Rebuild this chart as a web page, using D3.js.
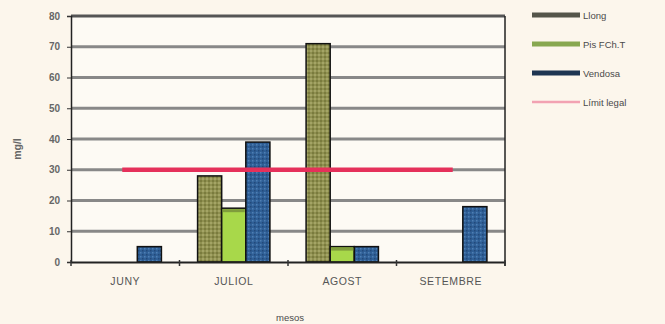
<!DOCTYPE html>
<html><head><meta charset="utf-8">
<script src="https://cdn.jsdelivr.net/npm/d3@7"></script>
<style>
html,body{margin:0;padding:0;background:#fcf6ec;}
svg{display:block;}
text{font-family:"Liberation Sans",Arial,sans-serif;fill:#4a4a4a;}
</style></head><body>
<svg id="chart" width="665" height="324"></svg>
<script>
const months = ["JUNY","JULIOL","AGOST","SETEMBRE"];
const seriesNames = ["Llong","Pis FCh.T","Vendosa"];
const llong   = [0, 28, 71, 0];
const pis     = [0, 17.5, 5, 0];
const vendosa = [5, 39, 5, 18];
const limitName = "Límit legal";
const limitValue = 30;
const yTicks = [0,10,20,30,40,50,60,70,80];

const svg = d3.select("#chart");
const W = 665, H = 324;
const m = {left:71, right:160, top:16, bottom:62};
const x0 = d3.scaleBand().domain(months).range([m.left, W - m.right]).paddingInner(0).paddingOuter(0);
const y = d3.scaleLinear().domain([0,80]).range([H - m.bottom, m.top]);
const x1 = d3.scaleBand().domain(seriesNames).range([0, x0.bandwidth()]).paddingOuter(0.75).paddingInner(0);

const defs = svg.append("defs");
const p1 = defs.append("pattern").attr("id","pLlong").attr("width",4).attr("height",4).attr("patternUnits","userSpaceOnUse");
p1.append("rect").attr("width",4).attr("height",4).attr("fill","#8f9050");
p1.append("rect").attr("width",2).attr("height",2).attr("fill","#7a7b3e");
p1.append("rect").attr("x",2).attr("y",2).attr("width",2).attr("height",2).attr("fill","#a4a466");
const p3 = defs.append("pattern").attr("id","pVend").attr("width",4).attr("height",4).attr("patternUnits","userSpaceOnUse");
p3.append("rect").attr("width",4).attr("height",4).attr("fill","#2f5f96");
p3.append("rect").attr("width",1.5).attr("height",1.5).attr("fill","#4f7fb4");
p3.append("rect").attr("x",2).attr("y",2).attr("width",1.5).attr("height",1.5).attr("fill","#22497a");

svg.append("rect").attr("x",m.left).attr("y",m.top).attr("width",W-m.right-m.left).attr("height",H-m.bottom-m.top).attr("fill","#fdfaf4");

svg.append("g").selectAll("line").data(yTicks.filter(d=>d>0)).join("line")
  .attr("x1",m.left).attr("x2",W-m.right)
  .attr("y1",d=>y(d)).attr("y2",d=>y(d))
  .attr("stroke",d=>d===80?"#555":"#888").attr("stroke-width",3);

svg.append("line").attr("x1",W-m.right).attr("x2",W-m.right).attr("y1",m.top).attr("y2",H-m.bottom+4).attr("stroke","#222").attr("stroke-width",1.5);

const series = [
  {name:"Llong", vals:llong, fill:"url(#pLlong)"},
  {name:"Pis FCh.T", vals:pis, fill:"#a8d84a"},
  {name:"Vendosa", vals:vendosa, fill:"url(#pVend)"}
];
const bars = svg.append("g");
series.forEach(s=>{
  bars.selectAll(null).data(months.map((mo,i)=>({mo, v:s.vals[i]})).filter(d=>d.v>0)).join("rect")
    .attr("x",d=>x0(d.mo)+x1(s.name))
    .attr("y",d=>y(d.v))
    .attr("width",x1.bandwidth())
    .attr("height",d=>y(0)-y(d.v))
    .attr("fill",s.fill).attr("stroke","#111").attr("stroke-width",1.5);
});
bars.selectAll(null).data(months.map((mo,i)=>({mo,v:pis[i]})).filter(d=>d.v>0)).join("rect")
  .attr("x",d=>x0(d.mo)+x1("Pis FCh.T")+1).attr("y",d=>y(d.v)+1)
  .attr("width",x1.bandwidth()-2).attr("height",3).attr("fill","#7f9c3c");

const cx = d=>x0(d)+x0.bandwidth()/2;
svg.append("line").attr("x1",cx(months[0])-3).attr("x2",cx(months[months.length-1])+2)
  .attr("y1",y(limitValue)).attr("y2",y(limitValue))
  .attr("stroke","#e5305a").attr("stroke-width",4.5);

const ya = svg.append("g").attr("transform",`translate(${m.left},0)`)
  .call(d3.axisLeft(y).tickValues(yTicks).tickSize(4).tickPadding(7));
ya.select(".domain").attr("stroke","#222").attr("stroke-width",1.5);
ya.selectAll(".tick line").attr("stroke","#333");
ya.selectAll("text").attr("font-size",10).attr("font-weight","bold").style("fill","#666");

const xa = svg.append("g").attr("transform",`translate(0,${y(0)})`)
  .call(d3.axisBottom(x0).tickSize(0).tickPadding(16));
xa.select(".domain").attr("stroke","#222").attr("stroke-width",2);
xa.selectAll("text").attr("font-size",10.5).style("fill","#555").attr("letter-spacing","0.6px");
xa.selectAll(null).data(d3.range(months.length+1)).join("line")
  .attr("x1",i=>m.left+i*x0.bandwidth()).attr("x2",i=>m.left+i*x0.bandwidth())
  .attr("y1",-2).attr("y2",4).attr("stroke","#333").attr("stroke-width",1.5);

svg.append("text").attr("transform",`translate(21,${(m.top+H-m.bottom)/2+10}) rotate(-90)`)
  .attr("text-anchor","middle").attr("font-size",10.5).attr("font-weight","bold").style("fill","#666").text("mg/l");
svg.append("text").attr("x",290).attr("y",321).attr("text-anchor","middle").attr("font-size",9.5).text("mesos");

const legItems = [
  {name:"Llong", color:"#55554a", w:5},
  {name:"Pis FCh.T", color:"#88a850", w:5},
  {name:"Vendosa", color:"#1e3552", w:5},
  {name:limitName, color:"#f2a2b2", w:2.5}
];
const leg = svg.append("g");
legItems.forEach((d,i)=>{
  const yy = 15 + i*29;
  leg.append("line").attr("x1",532).attr("x2",580).attr("y1",yy).attr("y2",yy).attr("stroke",d.color).attr("stroke-width",d.w);
  leg.append("text").attr("x",583).attr("y",yy+3.5).attr("font-size",9.5).text(d.name);
});
</script>
</body></html>
